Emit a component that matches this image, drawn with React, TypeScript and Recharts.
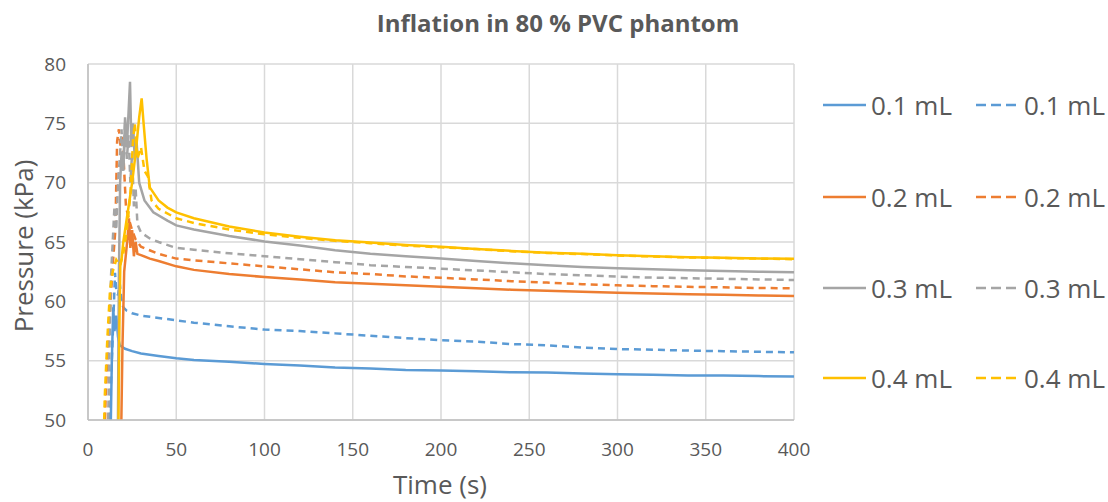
import { LineChart, Line, XAxis, YAxis, CartesianGrid } from 'recharts'

// [time (s), pressure (kPa)]
const solid01: [number, number][] = [
  [12.5, 46], [13.5, 55], [14.3, 59.5], [15, 57.5], [16, 58.8], [17, 57], [18, 56.3], [19, 56.2],
  [21, 56], [25, 55.8], [30, 55.6], [35, 55.5], [40, 55.4], [50, 55.2],
  [60, 55.05], [80, 54.9], [100, 54.72], [120, 54.6], [140, 54.42], [160, 54.35], [180, 54.22],
  [200, 54.18], [220, 54.1], [240, 54.02], [260, 54.0], [280, 53.92], [300, 53.85], [320, 53.82],
  [340, 53.76], [360, 53.74], [380, 53.7], [400, 53.66],
]
const dashed01: [number, number][] = [
  [11.5, 46], [13, 53], [14.5, 59], [15.3, 62.4], [16, 61], [17, 60.5], [18, 61.5], [19, 60],
  [20, 59.5], [22, 59.2], [25, 59.0], [30, 58.8], [40, 58.6], [50, 58.4],
  [60, 58.2], [80, 57.9], [100, 57.62], [120, 57.5], [140, 57.3], [160, 57.1], [180, 56.9],
  [200, 56.72], [220, 56.6], [240, 56.4], [260, 56.3], [280, 56.1], [300, 55.98], [320, 55.92],
  [340, 55.85], [360, 55.8], [380, 55.75], [400, 55.7],
]
const solid02: [number, number][] = [
  [18.5, 46], [19.5, 56], [20.5, 62.5], [21.5, 64], [22.5, 65.5], [23.2, 67], [24, 64.5],
  [25, 66], [26, 63.8], [27, 65], [28, 64], [30, 63.9], [35, 63.6], [40, 63.4], [50, 62.95],
  [60, 62.65], [80, 62.3], [100, 62.05], [120, 61.85], [140, 61.6], [160, 61.48], [180, 61.35],
  [200, 61.22], [220, 61.1], [240, 60.98], [260, 60.9], [280, 60.8], [300, 60.72], [320, 60.65],
  [340, 60.6], [360, 60.55], [380, 60.5], [400, 60.45],
]
const dashed02: [number, number][] = [
  [9, 46], [10, 52], [12, 58], [14, 63], [15.5, 66], [16.5, 73.5], [17.5, 74.5], [18.5, 73],
  [19.5, 74], [20.5, 71], [21.5, 68], [23, 67], [25, 66], [27, 65.2], [30, 64.6], [40, 64],
  [50, 63.6],
  [60, 63.45], [80, 63.2], [100, 62.95], [120, 62.7], [140, 62.45], [160, 62.3], [180, 62.1],
  [200, 61.98], [220, 61.85], [240, 61.7], [260, 61.58], [280, 61.45], [300, 61.35], [320, 61.28],
  [340, 61.22], [360, 61.18], [380, 61.12], [400, 61.1],
]
const solid03: [number, number][] = [
  [16.8, 46], [17.5, 62], [18.2, 70], [19, 72.5], [20, 71], [21, 75.5], [22, 73], [23, 76],
  [23.8, 78.5], [24.6, 73], [25.5, 75], [26.5, 72], [27.5, 73.5], [29, 70], [32, 68.5],
  [37, 67.5], [45, 66.8], [50, 66.4],
  [60, 66.05], [80, 65.5], [100, 65.05], [120, 64.7], [140, 64.3], [160, 64.0], [180, 63.8],
  [200, 63.6], [220, 63.4], [240, 63.2], [260, 63.05], [280, 62.9], [300, 62.78], [320, 62.7],
  [340, 62.62], [360, 62.55], [380, 62.5], [400, 62.45],
]
const dashed03: [number, number][] = [
  [11, 46], [12, 55], [13, 62], [14, 65], [15, 68], [16, 66], [17, 70], [18, 72], [19, 74.5],
  [20, 71], [21, 75], [22, 72], [23, 74], [24, 70], [25, 72.5], [26, 68], [27, 69.5], [28, 66.5],
  [30, 65.8], [35, 65.3], [40, 65], [50, 64.5],
  [60, 64.35], [80, 64.05], [100, 63.8], [120, 63.55], [140, 63.3], [160, 63.05], [180, 62.9],
  [200, 62.75], [220, 62.6], [240, 62.45], [260, 62.3], [280, 62.2], [300, 62.08], [320, 62.0],
  [340, 61.95], [360, 61.9], [380, 61.85], [400, 61.8],
]
const solid04: [number, number][] = [
  [17, 46], [17.8, 58], [18.3, 63], [19, 63.5], [20, 65], [22, 67], [25, 70], [27, 72.5],
  [29, 75.5], [30.4, 77.1], [31.5, 75], [33.2, 72], [35, 69.6], [40, 68.5], [45, 67.9], [50, 67.5],
  [60, 67.0], [80, 66.3], [100, 65.8], [120, 65.45], [140, 65.15], [160, 64.95], [180, 64.75],
  [200, 64.6], [220, 64.42], [240, 64.25], [260, 64.1], [280, 64.0], [300, 63.88], [320, 63.8],
  [340, 63.72], [360, 63.68], [380, 63.62], [400, 63.58],
]
const dashed04: [number, number][] = [
  [8.5, 46], [9.5, 52], [11, 57], [12.5, 61], [14, 62.5], [16, 63.5], [18, 63], [20, 64],
  [22, 66], [24, 69], [25.5, 73.5], [26.5, 75], [28, 72], [30, 73], [32, 71], [34, 70.5],
  [36, 68.5], [40, 67.8], [50, 67.0],
  [60, 66.6], [80, 66.05], [100, 65.65], [120, 65.35], [140, 65.1], [160, 64.9], [180, 64.7],
  [200, 64.55], [220, 64.4], [240, 64.22], [260, 64.08], [280, 63.98], [300, 63.86], [320, 63.78],
  [340, 63.7], [360, 63.65], [380, 63.6], [400, 63.55],
]

const xTicks = [0, 50, 100, 150, 200, 250, 300, 350, 400]
const yTicks = [50, 55, 60, 65, 70, 75, 80]
const volumes = ['0.1 mL', '0.2 mL', '0.3 mL', '0.4 mL']
const COLORS = ['#5B9BD5', '#ED7D31', '#A5A5A5', '#FFC000']

const SERIES = [
  { name: '0.1 mL', color: COLORS[0], dashed: false, data: solid01 },
  { name: '0.1 mL dashed', color: COLORS[0], dashed: true, data: dashed01 },
  { name: '0.2 mL', color: COLORS[1], dashed: false, data: solid02 },
  { name: '0.2 mL dashed', color: COLORS[1], dashed: true, data: dashed02 },
  { name: '0.3 mL', color: COLORS[2], dashed: false, data: solid03 },
  { name: '0.3 mL dashed', color: COLORS[2], dashed: true, data: dashed03 },
  { name: '0.4 mL', color: COLORS[3], dashed: false, data: solid04 },
  { name: '0.4 mL dashed', color: COLORS[3], dashed: true, data: dashed04 },
]

const FONT = '"Open Sans", sans-serif'
const TEXT = '#595959'
const legendRows = [105, 197, 288, 378]

export default function App() {
  return (
    <div style={{ position: 'absolute', left: 0, top: 0, width: 1108, height: 502, background: '#fff', fontFamily: FONT }}>
      <div style={{ position: 'absolute', left: 558, top: 22, transform: 'translate(-50%, -50%)', fontSize: 24, fontWeight: 700, color: TEXT, whiteSpace: 'nowrap' }}>
        Inflation in 80 % PVC phantom
      </div>
      <LineChart width={1108} height={502} margin={{ top: 64, right: 314, bottom: 42, left: 28 }}>
        <CartesianGrid stroke="#d9d9d9" strokeWidth={1.5} />
        <XAxis
          dataKey="t"
          type="number"
          domain={[0, 400]}
          ticks={xTicks}
          height={40}
          tickSize={0}
          tickMargin={23}
          axisLine={{ stroke: '#bfbfbf', strokeWidth: 1.5 }}
          tick={{ fill: TEXT, fontSize: 19, fontFamily: FONT }}
          allowDuplicatedCategory={false}
        />
        <YAxis
          type="number"
          domain={[50, 80]}
          ticks={yTicks}
          allowDataOverflow
          width={60}
          tickSize={0}
          tickMargin={22}
          axisLine={{ stroke: '#bfbfbf', strokeWidth: 1.5 }}
          tick={{ fill: TEXT, fontSize: 19, fontFamily: FONT }}
        />
        {SERIES.map((s) => (
          <Line
            key={s.name}
            data={s.data.map(([t, p]) => ({ t, p }))}
            dataKey="p"
            type="linear"
            stroke={s.color}
            strokeWidth={2.5}
            strokeDasharray={s.dashed ? '7 5' : undefined}
            dot={false}
            isAnimationActive={false}
          />
        ))}
      </LineChart>
      <div style={{ position: 'absolute', left: 23, top: 246, transform: 'translate(-50%, -50%) rotate(-90deg)', fontSize: 26, color: TEXT, whiteSpace: 'nowrap' }}>
        Pressure (kPa)
      </div>
      <div style={{ position: 'absolute', left: 440, top: 484, transform: 'translate(-50%, -50%)', fontSize: 26, color: TEXT, whiteSpace: 'nowrap' }}>
        Time (s)
      </div>
      {volumes.map((v, i) => (
        <div key={v}>
          {[false, true].map((dashed, j) => (
            <div key={j} style={{ position: 'absolute', left: j ? 976 : 823, top: legendRows[i] - 20, height: 40, display: 'flex', alignItems: 'center' }}>
              <svg width={43} height={6} style={{ marginRight: 5 }}>
                <line x1={0} y1={3} x2={43} y2={3} stroke={COLORS[i]} strokeWidth={2.5} strokeDasharray={dashed ? '10 5' : undefined} />
              </svg>
              <span style={{ fontSize: 26, color: TEXT, whiteSpace: 'nowrap' }}>{v}</span>
            </div>
          ))}
        </div>
      ))}
    </div>
  )
}
